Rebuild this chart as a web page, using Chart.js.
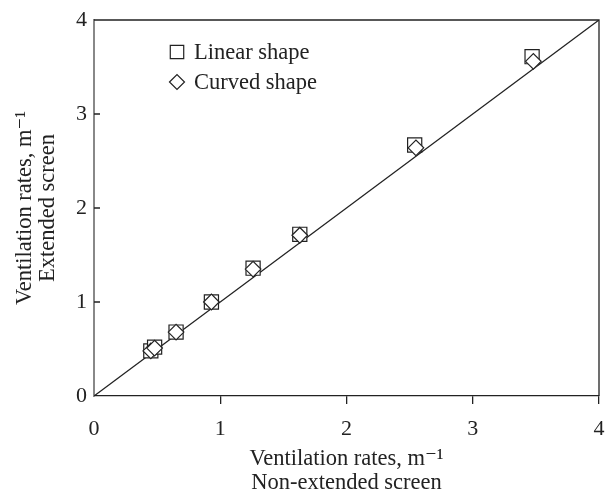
<!DOCTYPE html>
<html>
<head>
<meta charset="utf-8">
<script src="https://cdn.jsdelivr.net/npm/chart.js@4"></script>
<style>
  html, body { margin: 0; padding: 0; background: #fff; }
  #wrap { width: 607px; height: 494px; }
</style>
</head>
<body>
<div id="wrap"><canvas id="chart" width="607" height="494"></canvas></div>
<script>
// values
const linearX = [0.45, 0.48, 0.65, 0.93, 1.26, 1.63, 2.54, 3.47];
const linearY = [0.48, 0.52, 0.68, 1.00, 1.36, 1.72, 2.67, 3.61];
const curvedX = [0.45, 0.48, 0.65, 0.93, 1.26, 1.63, 2.55, 3.48];
const curvedY = [0.48, 0.51, 0.68, 1.00, 1.35, 1.71, 2.64, 3.56];
const refLine = [0, 4];
const tickValues = [0, 1, 2, 3, 4];
const legendLabels = ['Linear shape', 'Curved shape'];
const xTitle = ['Ventilation rates, m\u207B\u00B9', 'Non-extended screen'];
const yTitle = ['Ventilation rates, m\u207B\u00B9', 'Extended screen'];

const ink = '#222';
const serif = '"Liberation Serif", "DejaVu Serif", serif';

const toPoints = (xs, ys) => xs.map((x, i) => ({ x: x, y: ys[i] }));

// frame, inward y ticks and the legend box inside the plot
const framePlugin = {
  id: 'frame',
  beforeDatasetsDraw(chart) {
    const { ctx, chartArea: a, scales } = chart;
    ctx.save();
    ctx.strokeStyle = ink;
    ctx.lineWidth = 1.3;
    ctx.beginPath();
    ctx.moveTo(a.left, a.top);
    ctx.lineTo(a.right, a.top);
    ctx.lineTo(a.right, a.bottom);
    ctx.stroke();
    ctx.beginPath();
    tickValues.slice(1, -1).forEach(v => {
      const py = scales.y.getPixelForValue(v);
      ctx.moveTo(a.left, py);
      ctx.lineTo(a.left + 6, py);
    });
    ctx.stroke();
    ctx.restore();
  },
  afterDraw(chart) {
    const { ctx } = chart;
    ctx.save();
    const styles = ['rect', 'rectRot'];
    const sizes = [9.5, 7.5];
    legendLabels.forEach((label, i) => {
      const cy = 52 + i * 30;
      ctx.strokeStyle = ink;
      ctx.fillStyle = '#fff';
      ctx.lineWidth = 1.2;
      Chart.helpers.drawPoint(ctx, { pointStyle: styles[i], radius: sizes[i], rotation: 0, borderWidth: 1.2 }, 177, cy);
      ctx.fillStyle = ink;
      ctx.font = '22.5px ' + serif;
      ctx.textBaseline = 'middle';
      ctx.textAlign = 'left';
      ctx.fillText(label, 194, cy + 1);
    });
    ctx.restore();
  }
};

new Chart(document.getElementById('chart'), {
  type: 'scatter',
  data: {
    datasets: [
      {
        label: legendLabels[1],
        data: toPoints(curvedX, curvedY),
        pointStyle: 'rectRot',
        pointRadius: 7.8,
        pointBorderWidth: 1.2,
        borderColor: ink,
        backgroundColor: '#fff',
        order: 0
      },
      {
        label: legendLabels[0],
        data: toPoints(linearX, linearY),
        pointStyle: 'rect',
        pointRadius: 10,
        pointBorderWidth: 1.2,
        borderColor: ink,
        backgroundColor: '#fff',
        order: 1
      },
      {
        type: 'line',
        label: '1:1',
        data: toPoints(refLine, refLine),
        borderColor: ink,
        borderWidth: 1.3,
        pointRadius: 0,
        fill: false,
        order: 2
      }
    ]
  },
  options: {
    responsive: false,
    animation: false,
    layout: { autoPadding: false, padding: { top: 20, right: 8, left: 0, bottom: 0 } },
    plugins: {
      legend: { display: false },
      tooltip: { enabled: false }
    },
    scales: {
      x: {
        type: 'linear',
        min: 0,
        max: 4,
        afterFit: s => { s.height = 98; s.paddingLeft = 0; s.paddingRight = 0; },
        afterBuildTicks: s => { s.ticks = tickValues.map(v => ({ value: v })); },
        border: { color: ink, width: 1.3 },
        grid: {
          drawOnChartArea: false,
          drawTicks: true,
          tickLength: 8,
          color: c => (c.tick && c.tick.value === 0 ? 'rgba(0,0,0,0)' : ink),
          lineWidth: 1.3
        },
        ticks: {
          color: ink,
          padding: 12,
          font: { family: serif, size: 22 }
        },
        title: {
          display: true,
          text: xTitle,
          color: ink,
          font: { family: serif, size: 22.5, lineHeight: '24px' },
          padding: { top: 0, bottom: -1 }
        }
      },
      y: {
        type: 'linear',
        min: 0,
        max: 4,
        afterFit: s => { s.width = 94; s.paddingTop = 0; s.paddingBottom = 0; },
        afterBuildTicks: s => { s.ticks = tickValues.map(v => ({ value: v })); },
        border: { color: '#888', width: 2 },
        grid: { drawOnChartArea: false, drawTicks: false },
        ticks: {
          color: ink,
          padding: 7,
          font: { family: serif, size: 22 }
        },
        title: {
          display: true,
          text: yTitle,
          color: ink,
          font: { family: serif, size: 22.5, lineHeight: '23px' },
          padding: { top: 14, bottom: 0 }
        }
      }
    }
  },
  plugins: [framePlugin]
});
</script>
</body>
</html>
